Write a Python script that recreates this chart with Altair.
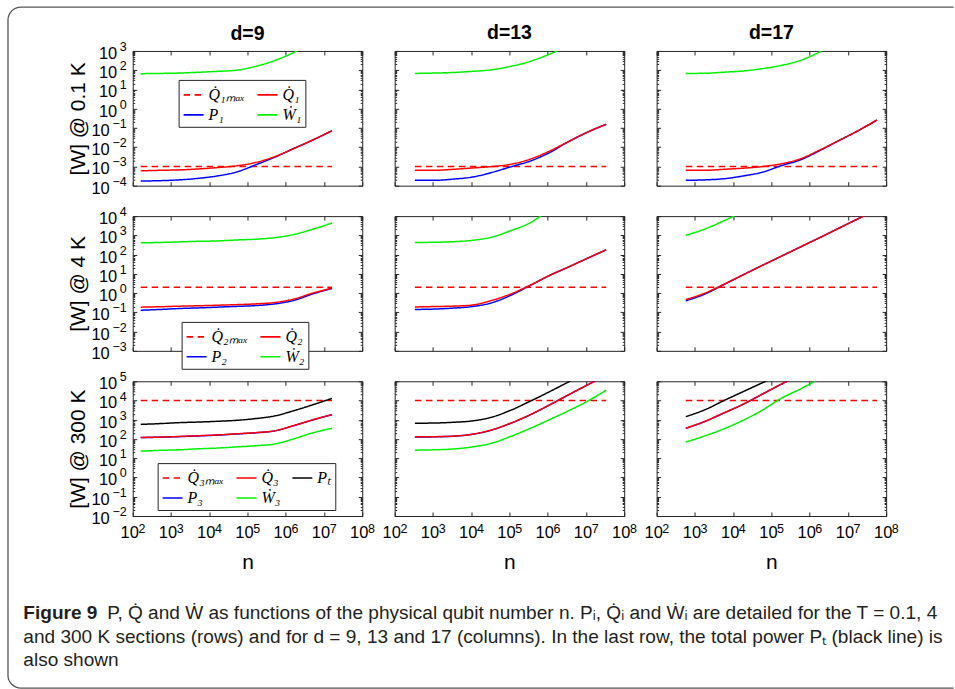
import json
import altair as alt
import pandas as pd

# ---------------- data ----------------
D_VALUES = [9, 13, 17]
ROW_TITLES = ["[W] @ 0.1 K", "[W] @ 4 K", "[W] @ 300 K"]

X_TICK_VALUES = [1e2, 1e3, 1e4, 1e5, 1e6, 1e7, 1e8]
X_TICK_EXPONENTS = ["2", "3", "4", "5", "6", "7", "8"]

Y_EXP_01K = [-4, 3]
Y_EXP_4K = [-3, 4]
Y_EXP_300K = [-2, 5]
Y_EXPONENTS_01K = ["\u22124", "\u22123", "\u22122", "\u22121", "0", "1", "2", "3"]
Y_EXPONENTS_4K = ["\u22123", "\u22122", "\u22121", "0", "1", "2", "3", "4"]
Y_EXPONENTS_300K = ["\u22122", "\u22121", "0", "1", "2", "3", "4", "5"]

# physical qubit number n (x) for each code distance
N_D9 = [162, 512, 1620, 5120, 16200, 51200, 162000, 512000, 1620000, 5120000, 16200000]
N_D13 = [338, 1070, 3380, 10700, 33800, 107000, 338000, 1070000, 3380000, 10700000, 33800000]
N_D17 = [578, 1830, 5780, 18300, 57800, 183000, 578000, 1830000, 5780000, 18300000, 57800000]

# maximum cooling power of each stage [W]
QMAX_STAGE = [1e-3, 2.0, 1e4]

# 0.1 K stage
Q1_D9 = [5.9e-4, 6.3e-4, 6.6e-4, 7.4e-4, 8.7e-4, 1.07e-3, 1.6e-3, 3.2e-3, 8.5e-3, 2.4e-2, 7.2e-2]
P1_D9 = [1.74e-4, 1.82e-4, 2.0e-4, 2.4e-4, 3.2e-4, 5.1e-4, 1.2e-3, 3.0e-3, 8.5e-3, 2.35e-2, 7.2e-2]
W1_D9 = [66, 68, 71, 78, 87, 100, 158, 316, 832, 3160, None]
Q1_D13 = [6.3e-4, 6.3e-4, 7.1e-4, 8.3e-4, 9.8e-4, 1.29e-3, 2.34e-3, 6.0e-3, 1.9e-2, 5.9e-2, 0.155]
P1_D13 = [1.9e-4, 1.9e-4, 2.2e-4, 2.8e-4, 4.8e-4, 9.5e-4, 1.86e-3, 5.0e-3, 1.85e-2, 5.9e-2, 0.155]
W1_D13 = [68, 71, 76, 87, 105, 158, 282, 660, 1780, None, None]
Q1_D17 = [6.3e-4, 6.3e-4, 7.1e-4, 8.1e-4, 9.8e-4, 1.38e-3, 2.5e-3, 7.1e-3, 2.2e-2, 7.1e-2, 0.26]
P1_D17 = [1.9e-4, 2.0e-4, 2.3e-4, 3.2e-4, 5.0e-4, 1.1e-3, 2.2e-3, 6.6e-3, 2.2e-2, 7.1e-2, 0.26]
W1_D17 = [68, 69, 79, 91, 120, 178, 324, 890, 3160, None, None]

# 4 K stage
Q2_D9 = [0.186, 0.195, 0.209, 0.219, 0.234, 0.251, 0.275, 0.324, 0.49, 1.0, 1.82]
P2_D9 = [0.129, 0.141, 0.158, 0.170, 0.186, 0.204, 0.224, 0.275, 0.417, 0.91, 1.74]
W2_D9 = [407, 427, 457, 490, 513, 575, 631, 759, 1100, 2090, 4370]
Q2_D13 = [0.19, 0.20, 0.21, 0.24, 0.41, 0.89, 2.5, 7.9, 22, 63, 178]
P2_D13 = [0.141, 0.148, 0.166, 0.20, 0.31, 0.76, 2.4, 7.9, 22, 63, 178]
W2_D13 = [427, 437, 468, 550, 794, 1740, 4370, 21000, None, None, None]
Q2_D17 = [0.46, 1.0, 2.9, 8.9, 27.5, 83, 251, 759, 2340, 7240, 22000]
P2_D17 = [0.40, 0.89, 2.8, 8.9, 27.5, 83, 251, 759, 2340, 7240, 22000]
W2_D17 = [1000, 2140, 5750, 17400, None, None, None, None, None, None, None]

# 300 K stage
Q3_D9 = [120, 126, 135, 148, 162, 186, 214, 269, 501, 1000, 1860]
P3_D9 = [118, 124, 133, 145, 159, 182, 210, 264, 492, 980, 1830]
W3_D9 = [23.4, 25.7, 27.5, 30.9, 33.9, 38.9, 44.7, 55, 102, 209, 363]
PT_D9 = [575, 631, 708, 759, 832, 933, 1150, 1580, 2950, 6030, 12900]
Q3_D13 = [129, 132, 141, 178, 295, 661, 1780, 5620, 19000, 63000, 200000]
P3_D13 = [127, 130, 139, 175, 290, 650, 1750, 5620, 19000, 63000, 200000]
W3_D13 = [26.3, 27.5, 30.2, 38.9, 60, 135, 347, 977, 2820, 8900, 34700]
PT_D13 = [661, 676, 741, 871, 1350, 3090, 8910, 27500, 89000, 280000, None]
Q3_D17 = [363, 832, 2290, 6460, 21400, 71000, 224000, None, None, None, None]
P3_D17 = [355, 815, 2250, 6400, 21400, 71000, 224000, None, None, None, None]
W3_D17 = [69, 145, 339, 933, 3160, 13200, 40000, 141000, None, None, None]
PT_D17 = [1450, 3310, 10000, 29000, 83000, 240000, None, None, None, None, None]

LABELS_QMAX = ["Q\u0307\u2081\u2098\u2090\u2093", "Q\u0307\u2082\u2098\u2090\u2093", "Q\u0307\u2083\u2098\u2090\u2093"]
LABELS_Q = ["Q\u0307\u2081", "Q\u0307\u2082", "Q\u0307\u2083"]
LABELS_P = ["P\u2081", "P\u2082", "P\u2083"]
LABELS_W = ["\u1e86\u2081", "\u1e86\u2082", "\u1e86\u2083"]
LABEL_PT = "P\u209c"

CAPTION_BOLD = "Figure 9"
CAPTION_1 = "P, Q\u0307 and \u1e86 as functions of the physical qubit number n. P\u1d62, Q\u0307\u1d62 and \u1e86\u1d62 are detailed for the T = 0.1, 4"
CAPTION_2 = "and 300 K sections (rows) and for d = 9, 13 and 17 (columns). In the last row, the total power P\u209c (black line) is"
CAPTION_3 = "also shown"

# ---------------- assembly ----------------
N_BY_D = [N_D9, N_D13, N_D17]
Y_EXP = [Y_EXP_01K, Y_EXP_4K, Y_EXP_300K]
Y_EXPONENTS = [Y_EXPONENTS_01K, Y_EXPONENTS_4K, Y_EXPONENTS_300K]
Q_SERIES = [[Q1_D9, Q1_D13, Q1_D17], [Q2_D9, Q2_D13, Q2_D17], [Q3_D9, Q3_D13, Q3_D17]]
P_SERIES = [[P1_D9, P1_D13, P1_D17], [P2_D9, P2_D13, P2_D17], [P3_D9, P3_D13, P3_D17]]
W_SERIES = [[W1_D9, W1_D13, W1_D17], [W2_D9, W2_D13, W2_D17], [W3_D9, W3_D13, W3_D17]]
PT_SERIES = [PT_D9, PT_D13, PT_D17]

RED, BLUE, GREEN, BLACK = "#ff0000", "#0000ff", "#00f000", "#000000"
DASH = [6.5, 4.5]
SOLID = [1, 0]

PANEL_W, PANEL_H = 230, 135
LEGEND_POS = [(46, 29), (49, 106), (25, 82)]
AXIS_FONT = "Liberation Sans"
BASE_SIZE = 16.5
EXP_SIZE = 12.5

X_SCALE = alt.Scale(type="log", domain=[1e2, 1e8], nice=False)


def exp_expr(labels, lo):
    return json.dumps(labels, ensure_ascii=False) + f"[round(log(datum.value)/LN10) - ({lo})]"


def tick_axis(orient, values, size):
    return alt.Axis(orient=orient, values=values, labels=False, ticks=True,
                    tickSize={"expr": str(-size)}, domain=False, grid=False,
                    tickColor="#262626", tickWidth=1)


def label_axis(orient, values, expr, padding, size, offset, align, baseline, **extra):
    return alt.Axis(orient=orient, values=values, ticks=False, domain=False, grid=False,
                    labelExpr=expr, labelPadding=padding, labelFontSize=size,
                    labelOffset=offset, labelAlign=align, labelBaseline=baseline,
                    labelFont=AXIS_FONT, labelColor="black", labelFlush=False,
                    labelOverlap=False, **extra)


TITLE_STYLE = dict(titleFont=AXIS_FONT, titleFontSize=21, titleFontWeight="normal",
                   titleColor="black", titleBaseline="middle")


def panel(r, c):
    lo, hi = Y_EXP[r]
    y_scale = alt.Scale(type="log", domain=[10.0 ** lo, 10.0 ** hi], nice=False)
    major_y = [10.0 ** k for k in range(lo, hi + 1)]
    minor_y = [m * 10.0 ** k for k in range(lo, hi) for m in range(2, 10)]
    n = N_BY_D[c]

    rows = []
    rows.append({"n": n[0], "v": QMAX_STAGE[r], "s": LABELS_QMAX[r]})
    rows.append({"n": n[-1], "v": QMAX_STAGE[r], "s": LABELS_QMAX[r]})
    order = [(P_SERIES[r][c], LABELS_P[r]), (Q_SERIES[r][c], LABELS_Q[r]),
             (W_SERIES[r][c], LABELS_W[r])]
    if r == 2:
        order.append((PT_SERIES[c], LABEL_PT))
    for vals, lab in order:
        for ni, v in zip(n, vals):
            if v is not None:
                rows.append({"n": ni, "v": v, "s": lab})
    df = pd.DataFrame(rows)

    # legend entries are laid out column by column
    if r == 2:
        domain = [LABELS_QMAX[r], LABELS_P[r], LABELS_Q[r], LABELS_W[r], LABEL_PT]
        colors = [RED, BLUE, RED, GREEN, BLACK]
        dashes = [DASH, SOLID, SOLID, SOLID, SOLID]
        ncol = 3
    else:
        domain = [LABELS_QMAX[r], LABELS_P[r], LABELS_Q[r], LABELS_W[r]]
        colors = [RED, BLUE, RED, GREEN]
        dashes = [DASH, SOLID, SOLID, SOLID]
        ncol = 2

    if c == 0:
        lx, ly = LEGEND_POS[r]
        legend = alt.Legend(orient="none", legendX=lx, legendY=ly, columns=ncol, title=None,
                            symbolType="stroke", symbolSize=400, symbolStrokeWidth=1.6,
                            labelFont="Liberation Serif", labelFontStyle="italic",
                            labelFontSize=16, labelColor="black",
                            strokeColor="#262626", fillColor="white", padding=4,
                            columnPadding=8, rowPadding=1, labelOffset=4)
    else:
        legend = None

    lines = alt.Chart(df).mark_line(clip=True, strokeWidth=1.5, interpolate="monotone").encode(
        x=alt.X("n:Q", scale=X_SCALE, axis=None),
        y=alt.Y("v:Q", scale=y_scale, axis=None),
        color=alt.Color("s:N", scale=alt.Scale(domain=domain, range=colors), legend=legend),
        strokeDash=alt.StrokeDash("s:N", scale=alt.Scale(domain=domain, range=dashes), legend=legend),
    )

    dummy = alt.Data(values=[{"n": 1e3, "v": 10.0 ** lo}])

    def ghost(xaxis, yaxis, xtitle=None, ytitle=None):
        return alt.Chart(dummy).mark_point(opacity=0).encode(
            x=alt.X("n:Q", scale=X_SCALE, axis=xaxis, title=xtitle),
            y=alt.Y("v:Q", scale=y_scale, axis=yaxis, title=ytitle),
        )

    layers = [
        lines,
        ghost(tick_axis("bottom", X_TICK_VALUES, 4), tick_axis("left", major_y, 4)),
        ghost(tick_axis("top", X_TICK_VALUES, 4), tick_axis("right", major_y, 4)),
        ghost(None, tick_axis("left", minor_y, 2)),
        ghost(None, tick_axis("right", minor_y, 2)),
    ]

    if c == 0:
        pos_vals = [v for v in major_y if v >= 1]
        neg_vals = [v for v in major_y if v < 1]
        layers.append(ghost(None, label_axis(
            "left", pos_vals, "'10'", 16, BASE_SIZE, 2.5, "right", "middle",
            titleX=-54, titleY=PANEL_H / 2, titleAngle=270, **TITLE_STYLE), ytitle=ROW_TITLES[r]))
        layers.append(ghost(None, label_axis(
            "left", neg_vals, "'10'", 23.5, BASE_SIZE, 2.5, "right", "middle")))
        layers.append(ghost(None, label_axis(
            "left", major_y, exp_expr(Y_EXPONENTS[r], lo), 6.5, EXP_SIZE, -4.5, "right", "middle")))

    if r == 2:
        layers.append(ghost(label_axis(
            "bottom", X_TICK_VALUES, "'10'", 9, BASE_SIZE, -3.5, "center", "top",
            titleX=PANEL_W / 2, titleY=47, **TITLE_STYLE), None, xtitle="n"))
        layers.append(ghost(label_axis(
            "bottom", X_TICK_VALUES, exp_expr(X_TICK_EXPONENTS, 2), 6.2, EXP_SIZE, 8.7,
            "center", "top"), None))

    if r == 2 and c == 0:
        # figure frame (open on the right, like the page crop) and caption
        fw, fh, rad = 947.65, 682.5, 13
        dash = [fw - rad, fh, fw - rad + 2 * 20.42 + fh - 2 * rad + 40]
        frame = alt.Chart(alt.Data(values=[{"k": 1}])).mark_rect(
            fillOpacity=0, stroke="#555555", strokeWidth=1.3,
            cornerRadiusTopLeft=rad, cornerRadiusBottomLeft=rad, strokeDash=dash
        ).encode(x=alt.value(-125), x2=alt.value(-125 + fw), y=alt.value(-375), y2=alt.value(-375 + fh))
        layers.append(frame)
        cap = [
            (CAPTION_BOLD, -109.6, 232.3, "bold"),
            (CAPTION_1, -25.6, 232.3, "normal"),
            (CAPTION_2, -109.6, 256.3, "normal"),
            (CAPTION_3, -109.6, 279.3, "normal"),
        ]
        for text, x, y, weight in cap:
            layers.append(
                alt.Chart(alt.Data(values=[{"t": text}])).mark_text(
                    align="left", baseline="middle", font="Liberation Sans",
                    fontSize=19.1, fontWeight=weight, color="#231f20"
                ).encode(text="t:N", x=alt.value(x), y=alt.value(y))
            )

    props = dict(width=PANEL_W, height=PANEL_H)
    if r == 0:
        # the first column's exponent label pokes above the frame, so push its title back down
        props["title"] = alt.TitleParams(text=f"d={D_VALUES[c]}", font=AXIS_FONT, fontSize=19.5,
                                         fontWeight="bold", color="black", offset=7,
                                         dy=11.5 if c == 0 else 0)
    return alt.layer(*layers).resolve_axis(x="independent", y="independent").properties(**props)


panels = [panel(r, c) for r in range(3) for c in range(3)]

chart = alt.concat(
    *panels, columns=3, spacing={"row": 30.5, "column": 32.5}, bounds="flush"
).resolve_scale(
    x="independent", y="independent", color="independent", strokeDash="independent"
).properties(
    padding={"left": 6, "top": 4.35, "right": 0, "bottom": 0}
).configure_view(
    stroke="#262626", strokeWidth=1
)

chart.save("out.html", embed_options={"renderer": "svg", "actions": False})
